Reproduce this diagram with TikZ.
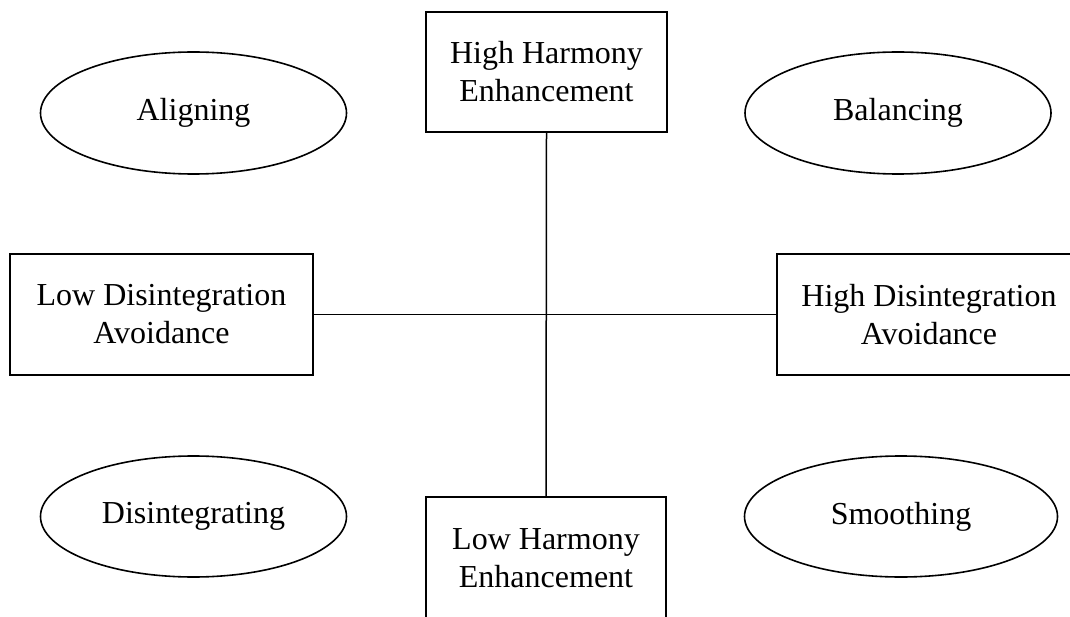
\documentclass[tikz,border=0pt]{standalone}
\usepackage{fontspec}
\setmainfont{Liberation Serif}
\usetikzlibrary{shapes.geometric}
\begin{document}
\begin{tikzpicture}[x=1pt,y=-1pt,
  every node/.style={font=\fontsize{32}{38}\selectfont, align=center, inner sep=0pt},
  boxnode/.style={draw, line width=1.6pt, rectangle},
  ovalnode/.style={draw, line width=1.6pt, ellipse},
  link/.style={line width=1.5pt}]
\useasboundingbox (0,0) rectangle (1070,617);
\clip (0,0) rectangle (1070,617);
\node[boxnode, minimum width=241pt, minimum height=120pt] (hhe) at (546.5,72) {High Harmony\\Enhancement};
\node[boxnode, minimum width=240pt, minimum height=122pt] (lhe) at (546,558) {Low Harmony\\Enhancement};
\node[boxnode, minimum width=303pt, minimum height=121pt] (lda) at (161.5,314.5) {Low Disintegration\\Avoidance};
\node[boxnode, minimum width=304pt, minimum height=121pt] (hda) at (929,314.5) {High Disintegration\\Avoidance};
\node[ovalnode, minimum width=306pt, minimum height=122pt] (al) at (193.5,113) {Aligning};
\node[ovalnode, minimum width=306pt, minimum height=122pt] (ba) at (898,113) {Balancing};
\node[ovalnode, minimum width=306pt, minimum height=121pt] (di) at (193.5,516.5) {Disintegrating};
\node[ovalnode, minimum width=313pt, minimum height=121pt] (sm) at (901,516.5) {Smoothing};
\draw[link] (hhe.south) -- (lhe.north);
\draw[link] (lda.east) -- (hda.west);
\end{tikzpicture}
\end{document}
